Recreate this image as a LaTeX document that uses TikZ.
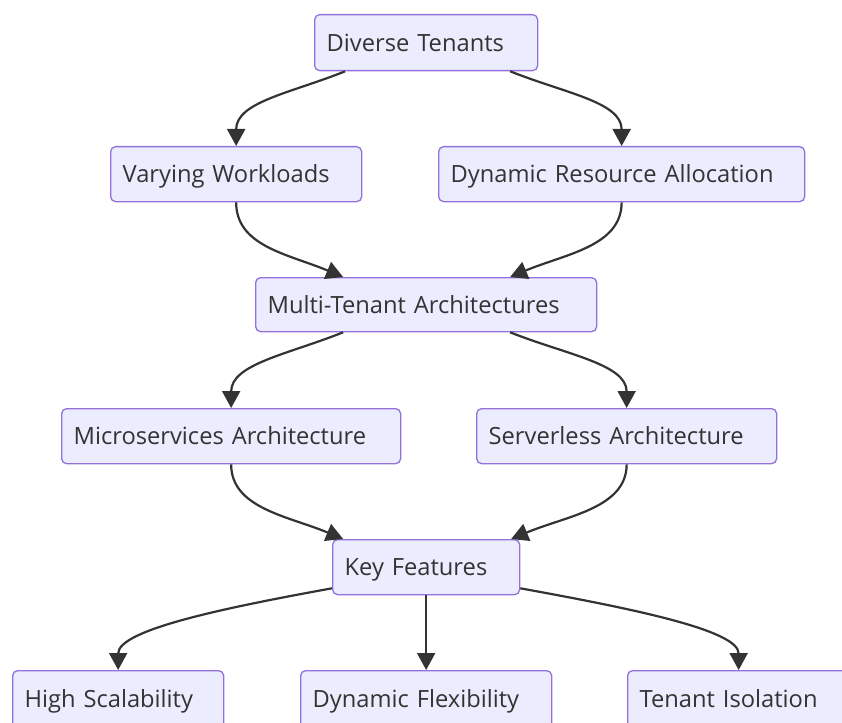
\documentclass[tikz,border=0pt]{standalone}
\usepackage{fontspec}
\setmainfont{Open Sans}
\usetikzlibrary{arrows.meta}
\definecolor{nodefill}{HTML}{ECECFF}
\definecolor{nodeborder}{HTML}{9370DB}
\definecolor{edgecol}{HTML}{333333}
\definecolor{textcol}{HTML}{333333}
\tikzset{
  box/.style={draw=nodeborder, fill=nodefill, line width=1.3pt, rounded corners=5pt,
    anchor=north west, inner xsep=12pt, inner ysep=0pt, align=left,
    text height=20pt, text depth=3pt,
    text=textcol, font=\fontsize{23.7}{27}\selectfont},
  edge/.style={draw=edgecol, line width=2.2pt, -{Triangle[length=17pt,width=18pt]}}
}
\begin{document}
\begin{tikzpicture}[x=1pt,y=-1pt]
\useasboundingbox (0,0) rectangle (842,722);
\clip (0,0) rectangle (842,722);
\node[box, text width=199pt, minimum height=56pt] (dt) at (314,14) {Diverse Tenants};
\node[box, text width=227pt, minimum height=55pt] (vw) at (110,146) {Varying Workloads};
\node[box, text width=342pt, minimum height=55pt] (dra) at (438,146) {Dynamic Resource Allocation};
\node[box, text width=317pt, minimum height=54pt] (mta) at (255,277) {Multi-Tenant Architectures};
\node[box, text width=315pt, minimum height=55pt] (ms) at (61,408) {Microservices Architecture};
\node[box, text width=276pt, minimum height=55pt] (sa) at (476,408) {Serverless Architecture};
\node[box, text width=163pt, minimum height=55pt] (kf) at (332,539) {Key Features};
\node[box, text width=187pt, minimum height=57pt] (hs) at (12,670) {High Scalability};
\node[box, text width=227pt, minimum height=57pt] (df) at (300,670) {Dynamic Flexibility};
\node[box, text width=198pt, minimum height=57pt] (ti) at (627,670) {Tenant Isolation};

\draw[edge] ([xshift=-81pt]dt.south) .. controls +(-55,22) and +(0,-44) .. (vw.north);
\draw[edge] ([xshift=84pt]dt.south) .. controls +(55,22) and +(0,-44) .. (dra.north);
\draw[edge] (vw.south) .. controls +(0,44) and +(-55,-23) .. ([xshift=-83pt]mta.north);
\draw[edge] (dra.south) .. controls +(0,44) and +(55,-23) .. ([xshift=84pt]mta.north);
\draw[edge] ([xshift=-83pt]mta.south) .. controls +(-55,22) and +(0,-44) .. (ms.north);
\draw[edge] ([xshift=84pt]mta.south) .. controls +(55,22) and +(0,-44) .. (sa.north);
\draw[edge] (ms.south) .. controls +(0,44) and +(-55,-23) .. ([xshift=-83pt]kf.north);
\draw[edge] (sa.south) .. controls +(0,44) and +(55,-23) .. ([xshift=85pt]kf.north);
\draw[edge] ([yshift=7pt]kf.south west) .. controls +(-110,20) and +(0,-40) .. (hs.north);
\draw[edge] (kf.south) -- (df.north);
\draw[edge] ([yshift=7pt]kf.south east) .. controls +(110,20) and +(0,-40) .. (ti.north);
\end{tikzpicture}
\end{document}
